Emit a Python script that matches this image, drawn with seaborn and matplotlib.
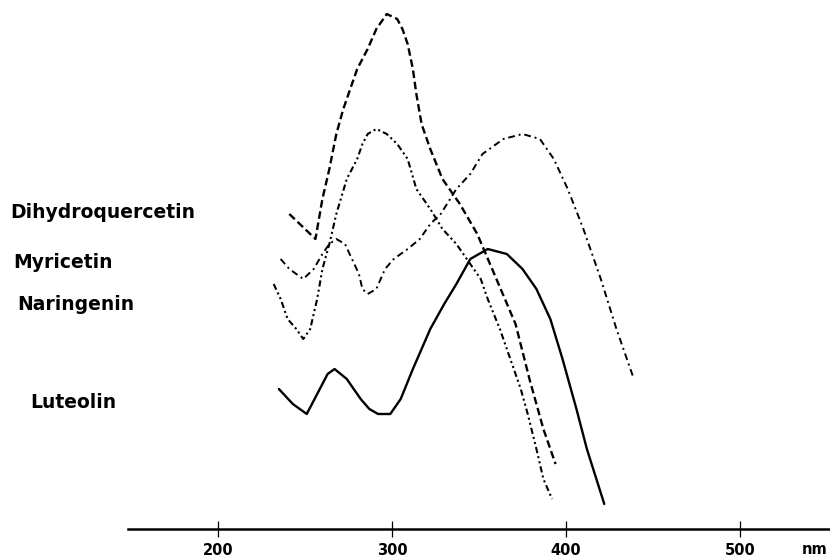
import matplotlib
matplotlib.use("Agg")
import matplotlib.pyplot as plt
import seaborn as sns
import pandas as pd

# wavelengths (nm) and relative absorbance
luteolin_nm = [235, 243, 251, 257, 263, 267, 274, 282, 287, 292, 299, 305, 312, 322,
               330, 337, 345, 355, 366, 375, 383, 391, 398, 406, 412, 422]
luteolin_abs = [0.28, 0.25, 0.23, 0.27, 0.31, 0.32, 0.30, 0.26, 0.24, 0.23, 0.23, 0.26,
                0.32, 0.40, 0.45, 0.49, 0.54, 0.56, 0.55, 0.52, 0.48, 0.42, 0.34, 0.24,
                0.16, 0.05]

dihydroquercetin_nm = [241, 247, 253, 256, 260, 264, 268, 272, 276, 280, 286, 291, 297,
                       303, 306, 309, 312, 314, 317, 322, 329, 339, 349, 360, 371, 379, 387, 394]
dihydroquercetin_abs = [0.63, 0.61, 0.59, 0.58, 0.66, 0.72, 0.79, 0.84, 0.88, 0.92, 0.96,
                        1.00, 1.03, 1.02, 1.00, 0.97, 0.92, 0.87, 0.81, 0.76, 0.70, 0.65,
                        0.59, 0.50, 0.41, 0.30, 0.20, 0.13]

myricetin_nm = [236, 241, 249, 255, 260, 264, 268, 273, 277, 281, 283, 286, 291, 296, 301,
                309, 316, 322, 328, 337, 345, 352, 364, 375, 385, 393, 401, 410, 420, 429, 439]
myricetin_abs = [0.54, 0.52, 0.50, 0.52, 0.55, 0.57, 0.58, 0.57, 0.54, 0.51, 0.48, 0.47,
                 0.48, 0.52, 0.54, 0.56, 0.58, 0.61, 0.63, 0.68, 0.71, 0.75, 0.78, 0.79,
                 0.78, 0.74, 0.68, 0.60, 0.50, 0.40, 0.30]

naringenin_nm = [232, 236, 240, 245, 249, 253, 257, 260, 264, 268, 274, 280, 283, 286, 291,
                 297, 303, 309, 314, 322, 329, 337, 345, 351, 355, 362, 368, 374, 378, 383,
                 387, 392]
naringenin_abs = [0.49, 0.46, 0.42, 0.40, 0.38, 0.40, 0.46, 0.52, 0.57, 0.63, 0.70, 0.74,
                  0.77, 0.79, 0.80, 0.79, 0.77, 0.74, 0.68, 0.64, 0.60, 0.57, 0.53, 0.50,
                  0.46, 0.40, 0.34, 0.28, 0.23, 0.16, 0.10, 0.06]

x_ticks = [200, 300, 400, 500]

# label text, label position in pixels (left x, centre y)
labels = ["Dihydroquercetin", "Myricetin", "Naringenin", "Luteolin"]
label_pos = [(10, 212), (13, 262), (17, 305), (30, 403)]

W, H = 830, 559
sns.set_style("white")
fig = plt.figure(figsize=(W / 100, H / 100), dpi=100)
ax = fig.add_axes([0, 0, 1, 1])

series = [
    ("Dihydroquercetin", dihydroquercetin_nm, dihydroquercetin_abs, (0, (3.2, 1.6)), 1.7),
    ("Myricetin", myricetin_nm, myricetin_abs, (0, (3.5, 2, 1, 2)), 1.4),
    ("Naringenin", naringenin_nm, naringenin_abs, (0, (3, 1.5, 1, 1.5, 1, 1.5)), 1.5),
    ("Luteolin", luteolin_nm, luteolin_abs, "-", 1.7),
]
for name, xs, ys, ls, lw in series:
    df = pd.DataFrame({"nm": xs, "A": ys})
    sns.lineplot(data=df, x="nm", y="A", sort=False, color="black",
                 linestyle=ls, linewidth=lw, ax=ax)

# pixel -> data mapping: 200 nm at x=218, 1.74 px per nm; axis line at y=529
px_per_nm = 1.74
ax.set_xlim(200 - 218 / px_per_nm, 200 + (W - 218) / px_per_nm)
ax.set_ylim(-(H - 529) / 500, 529 / 500)

for s in ["left", "top", "right"]:
    ax.spines[s].set_visible(False)
ax.spines["bottom"].set_position(("data", 0))
ax.spines["bottom"].set_bounds(200 + (128 - 218) / px_per_nm, 200 + (W - 218) / px_per_nm)
ax.spines["bottom"].set_linewidth(1.8)
ax.spines["bottom"].set_color("black")

ax.set_xticks(x_ticks)
ax.set_xticklabels([str(t) for t in x_ticks], fontsize=10.5, fontweight="bold")
ax.tick_params(axis="x", bottom=True, direction="inout", length=12, width=0.9,
               pad=4, color="black", labelcolor="black")
ax.set_yticks([])
ax.set_xlabel("")
ax.set_ylabel("")

fig.text(815 / W, 1 - 550 / H, "nm", ha="center", va="center",
         fontsize=10.5, fontweight="bold", color="black")

for txt, (px, py) in zip(labels, label_pos):
    fig.text(px / W, 1 - py / H, txt, ha="left", va="center",
             fontsize=13.5, fontweight="bold", color="black")

fig.savefig("out.png", dpi=100, facecolor="white")
